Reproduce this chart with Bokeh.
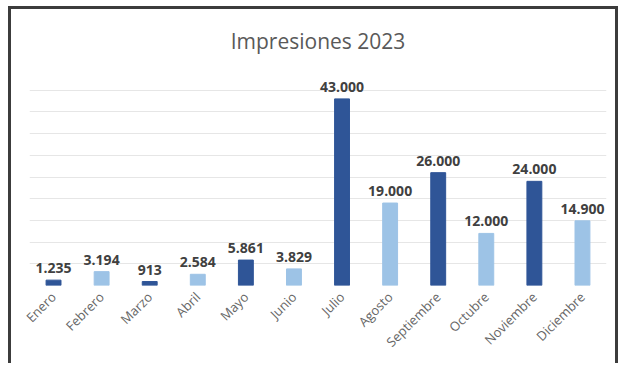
import math
from bokeh.plotting import figure
from bokeh.models import ColumnDataSource, FactorRange, Range1d, SingleIntervalTicker, Title
from bokeh.embed import file_html
from bokeh.resources import INLINE
from bokeh.core.properties import value

months = ["Enero", "Febrero", "Marzo", "Abril", "Mayo", "Junio", "Julio",
          "Agosto", "Septiembre", "Octubre", "Noviembre", "Diciembre"]
impresiones = [1235, 3194, 913, 2584, 5861, 3829, 43000, 19000, 26000, 12000, 24000, 14900]
dark = "#2F5597"
light = "#9DC3E6"
colors = [dark if i % 2 == 0 else light for i in range(len(months))]
labels = [f"{v:,}".replace(",", ".") for v in impresiones]

src = ColumnDataSource(dict(m=months, v=impresiones, c=colors, t=labels))

p = figure(x_range=FactorRange(*months, range_padding=0), y_range=Range1d(0, 50000),
           width=610, height=357, output_backend="svg", toolbar_location=None,
           min_border_left=18, min_border_right=15, min_border_top=59, min_border_bottom=81)
p.styles = {"border-left": "3px solid #3c3c3c", "border-right": "3px solid #3c3c3c",
            "border-top": "3px solid #3c3c3c", "margin-left": "8px", "margin-top": "6px"}
p.title = Title(text="Impresiones 2023", align="center", text_font="Open Sans",
                text_font_size="21px", text_color="#595959", text_font_style="normal",
                standoff=28)
p.outline_line_color = None
p.background_fill_color = "white"
p.border_fill_color = "white"

p.vbar(x="m", top="v", width=0.31, color="c", source=src)
p.text(x="m", y="v", text="t", source=src, text_align="center", text_baseline="bottom",
       y_offset=-7, text_font=value("Open Sans"), text_font_size="14px",
       text_font_style="bold", text_color="#404040")

p.yaxis.visible = False
p.ygrid.ticker = SingleIntervalTicker(interval=5000)
p.ygrid.grid_line_color = "#e6e6e6"
p.xgrid.grid_line_color = None
p.xaxis.axis_line_color = None
p.xaxis.major_tick_line_color = None
p.xaxis.major_label_orientation = math.pi / 4
p.xaxis.major_label_text_font = "Open Sans"
p.xaxis.major_label_text_font_size = "13px"
p.xaxis.major_label_text_color = "#666666"
p.xaxis.major_label_standoff = 3

open("out.html", "w").write(file_html(p, INLINE))
